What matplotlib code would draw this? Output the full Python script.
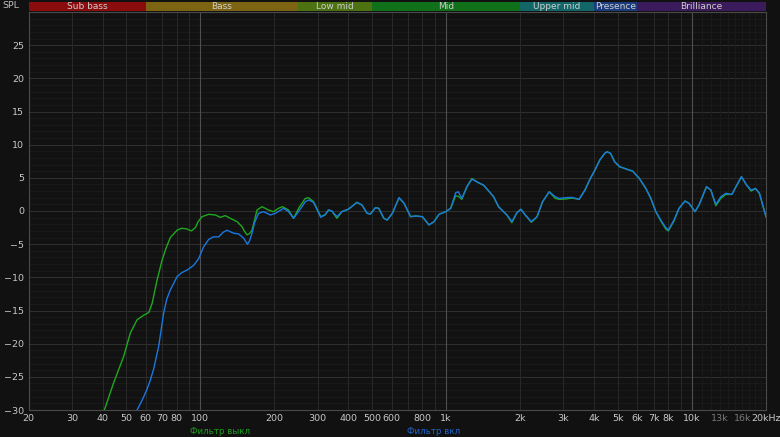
import numpy as np
import matplotlib.pyplot as plt

# frequency response, filter off (green) and filter on (blue) - low end differs
freq_off = [40.7, 44.4, 48.8, 51.9, 55.3, 58.9, 61.7, 63.7, 66.7, 69.9, 72.5, 75.5, 80.4, 84, 88,
            92, 95.5, 98, 101.6, 108.1, 115.1, 120.6, 126.3, 132.4, 141, 147.7, 151.5, 154.9, 158.5,
            162.3, 170.1, 178.2, 189.4, 198.5, 208, 216]
db_off = [-30, -25.9, -21.9, -18.4, -16.4, -15.7, -15.3, -13.9, -10.4, -7.4, -5.6, -4.0, -2.9, -2.6, -2.7,
          -3.0, -2.5, -1.6, -0.86, -0.5, -0.6, -0.95, -0.7, -1.1, -1.6, -2.36, -3.1, -3.6, -3.4,
          -2.9, 0.15, 0.65, 0.15, -0.1, 0.4, 0.65]

freq_on = [55.3, 58, 60.5, 62.6, 64.6, 67.7, 70.9, 73, 75.5, 80.4, 84, 88.3, 93.9, 98.4, 103.1,
           108.1, 113, 118.7, 124, 128.4, 136.6, 143.1, 150, 155.4, 158.5, 162.3, 166, 172.5, 180.8,
           192.8, 201.9, 218.1]
db_on = [-30, -28.5, -27.0, -25.5, -23.8, -20.4, -15.4, -13.3, -11.9, -9.9, -9.3, -8.9, -8.2, -7.2, -5.4,
         -4.3, -3.9, -3.9, -3.2, -2.9, -3.35, -3.45, -4.1, -5.0, -4.5, -3.35, -1.8, -0.35, -0.1,
         -0.6, -0.35, 0.4]

# from ~230 Hz up both curves run almost together
freq_hi = [228.4, 239.4, 252, 267.3, 275.8, 288.8, 309, 322, 332.3, 342.6, 359.5, 376.7, 401.3,
           433.5, 454.6, 476.7, 491.8, 515.6, 532, 557.7, 575.8, 604.1, 643.1, 674, 716.8, 751.6,
           800.5, 851.4, 892.6, 935.6, 995.3, 1043, 1093, 1121, 1158, 1214, 1272, 1354, 1419, 1487,
           1559, 1633, 1711, 1766, 1851, 1940, 2014, 2098, 2220, 2341, 2467, 2626, 2778, 2884,
           3051, 3247, 3474, 3670, 3846, 4029, 4218, 4419, 4514, 4659, 4850, 5080, 5401, 5741,
           6107, 6490, 6800, 7125, 7465, 7821, 8012, 8450, 8853, 9365, 9726, 10286, 10680, 11450,
           11930, 12500, 13100, 13730, 14530, 15090, 15900, 16680, 17400, 18120, 18800, 20000]
db_hi_off = [0.15, -1.1, 0.5, 1.9, 2.0, 1.4, -0.86, -0.6, 0.15, 0.0, -1.1, -0.1, 0.3,
             1.3, 0.9, -0.35, -0.45, 0.5, 0.4, -1.1, -1.36, -0.35, 2.0, 1.16, -0.86, -0.75,
             -0.86, -2.1, -1.6, -0.5, -0.1, 0.4, 2.3, 2.2, 1.76, 3.65, 4.9, 4.26, 3.9, 3.05,
             2.15, 0.65, -0.1, -0.6, -1.76, -0.26, 0.26, -0.6, -1.7, -0.9, 1.4, 2.9, 1.9, 1.76,
             1.8, 1.95, 1.76, 3.16, 4.8, 6.17, 7.7, 8.7, 8.93, 8.7, 7.4, 6.67, 6.33, 6.0,
             4.9, 3.4, 1.9, -0.1, -1.5, -2.7, -3.0, -1.5, 0.4, 1.5, 1.16, -0.1, 0.9, 3.66,
             3.16, 0.8, 1.9, 2.5, 2.5, 3.66, 5.17, 3.9, 3.0, 3.4, 2.67, -0.86]
db_hi_on = [-0.1, -1.1, 0.0, 1.4, 1.66, 1.3, -0.95, -0.5, 0.15, 0.0, -0.86, -0.1, 0.3,
            1.3, 0.9, -0.35, -0.45, 0.5, 0.4, -1.1, -1.36, -0.35, 2.0, 1.16, -0.86, -0.75,
            -0.86, -2.1, -1.6, -0.5, -0.1, 0.4, 2.75, 2.9, 1.9, 3.65, 4.8, 4.26, 3.9, 3.05,
            2.15, 0.65, -0.1, -0.6, -1.6, -0.26, 0.26, -0.6, -1.6, -0.86, 1.4, 2.9, 2.15, 1.9,
            2.0, 2.05, 1.76, 3.16, 4.8, 6.17, 7.7, 8.7, 8.93, 8.7, 7.4, 6.67, 6.33, 6.0,
            4.9, 3.4, 1.9, -0.1, -1.36, -2.5, -2.86, -1.36, 0.4, 1.5, 1.16, -0.1, 0.9, 3.66,
            3.16, 1.0, 2.15, 2.67, 2.5, 3.66, 5.17, 3.9, 3.16, 3.4, 2.67, -0.86]

bands = ['Sub bass', 'Bass', 'Low mid', 'Mid', 'Upper mid', 'Presence', 'Brilliance']
band_edges = [20, 60, 250, 500, 2000, 4000, 6000, 20000]
band_colors = ['#8a0c0c', '#7d6412', '#4d7212', '#11701a', '#136668', '#1b3c7c', '#3b1b5c']

xtick_vals = [20, 30, 40, 50, 60, 70, 80, 100, 200, 300, 400, 500, 600, 800,
              1000, 2000, 3000, 4000, 5000, 6000, 7000, 8000, 10000, 13000, 16000, 20000]
xtick_labels = ['20', '30', '40', '50', '60', '70', '80', '100', '200', '300', '400', '500', '600', '800',
                '1k', '2k', '3k', '4k', '5k', '6k', '7k', '8k', '10k', '13k', '16k', '20kHz']
yticks = list(range(-30, 30, 5))

W, H = 780, 437
BG = '#111111'
fig = plt.figure(figsize=(W / 100, H / 100), dpi=100, facecolor=BG)
ax = fig.add_axes([28.5 / W, 1 - 410 / H, (766 - 28.5) / W, (410 - 12) / H])
ax.set_facecolor('#121212')
ax.set_xscale('log')
ax.set_xlim(20, 20000)
ax.set_ylim(-30, 30)

# grid
for v in range(-30, 31):
    ax.axhline(v, color='#303030' if v % 5 == 0 else '#1a1a1a', lw=0.7, zorder=0)
for dec in [10, 100, 1000, 10000]:
    for m in range(1, 10):
        f = dec * m
        if f < 20 or f > 20000:
            continue
        bright = m == 1 and dec >= 100
        ax.axvline(f, color='#4f4f4f' if bright else '#2a2a2a', lw=0.8 if bright else 0.7, zorder=0)
for f in range(11000, 20000, 1000):
    ax.axvline(f, color='#1c1c1c', lw=0.6, zorder=0)

ax.plot(freq_off + freq_hi, db_off + db_hi_off, color='#1fa81f', lw=1.0, zorder=3,
        solid_joinstyle='round')
ax.plot(freq_on + freq_hi, db_on + db_hi_on, color='#1a78e0', lw=1.0, zorder=4,
        solid_joinstyle='round')

ax.set_xticks(xtick_vals)
ax.set_xticklabels(xtick_labels)
ax.minorticks_off()
ax.set_yticks(yticks)
ax.tick_params(length=0, labelsize=6.8, colors='#c8c8c8', pad=3)
for lab, val in zip(ax.get_xticklabels(), xtick_vals):
    if val in (13000, 16000):
        lab.set_color('#7a7a7a')
for s in ax.spines.values():
    s.set_color('#4a4a4a')
    s.set_linewidth(0.8)

# band strip
bax = fig.add_axes([28.5 / W, 1 - 11 / H, (766 - 28.5) / W, 9 / H])
bax.set_xscale('log')
bax.set_xlim(20, 20000)
bax.set_ylim(0, 1)
bax.axis('off')
for name, lo, hi, c in zip(bands, band_edges[:-1], band_edges[1:], band_colors):
    bax.axvspan(lo, hi, color=c, lw=0)
    bax.text(np.sqrt(lo * hi), 0.45, name, ha='center', va='center', fontsize=6.5, color='#cfcfcf')

fig.text(2 / W, 1 - 5.5 / H, 'SPL', fontsize=6.8, color='#bdbdbd', va='center')
fig.text(220 / W, 1 - 431 / H, 'Фильтр выкл', ha='center', va='center', fontsize=6.3, color='#1f9a1f')
fig.text(434 / W, 1 - 431 / H, 'Фильтр вкл', ha='center', va='center', fontsize=6.3, color='#1e63c8')

fig.savefig('out.png', dpi=100, facecolor=BG)
